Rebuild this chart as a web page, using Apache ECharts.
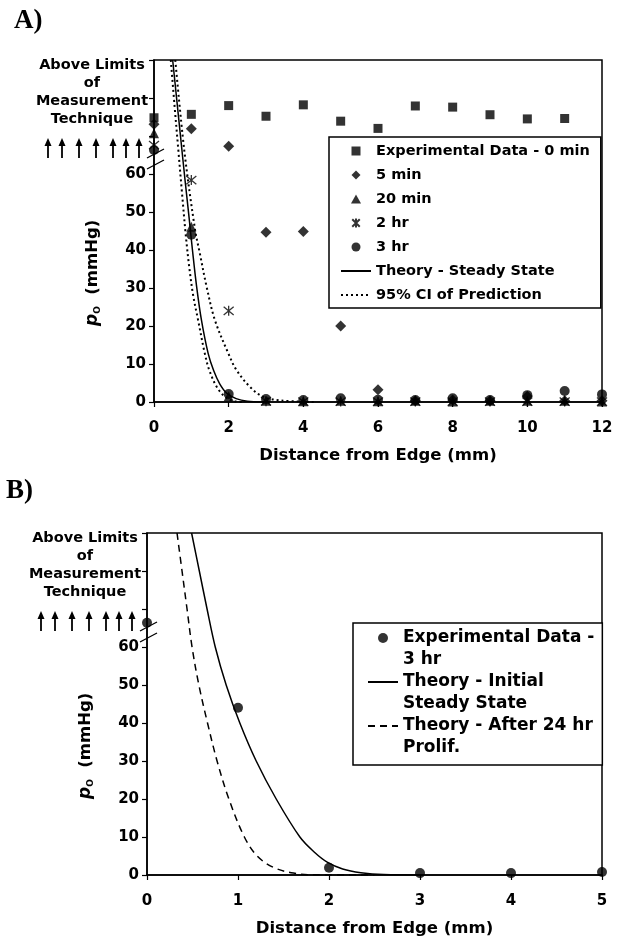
<!DOCTYPE html>
<html>
<head>
<meta charset="utf-8">
<script src="https://cdn.jsdelivr.net/npm/echarts@6/dist/echarts.min.js"></script>
<style>
html, body { margin: 0; padding: 0; background: #fff; }
#main { width: 622px; height: 943px; }
</style>
</head>
<body>
<div id="main"></div>
<script>
// ---- panel A : measured pO at each distance (mm) ----
var distA = [0, 1, 2, 3, 4, 5, 6, 7, 8, 9, 10, 11, 12];
var min0 = [74.8, 75.7, 78.0, 75.2, 78.2, 73.9, 72.0, 77.9, 77.6, 75.6, 74.5, 74.6];
var min5 = [73.1, 71.9, 67.3, 44.7, 44.9, 20.0, 3.2, 0.3, 0.5, 0.3, 1.5, 0.3, 0.3];
var min20 = [70.7, 46.1, 1.5, 0.3, 0.2, 0.3, 0.2, 0.3, 0.1, 0.3, 0.3, 0.3, 0.1];
var hr2 = [67.6, 58.4, 24.0, 0.2, 0.1, 0.1, 0.1, 0.1, 0.1, 0.1, 0.1, 0.1, 0.1];
var hr3 = [66.3, 44.0, 2.1, 0.8, 0.5, 1.0, 0.6, 0.5, 1.0, 0.5, 1.8, 2.9, 2.0];

// theory curve and 95% CI
var steadyX = [0.5, 0.61, 0.72, 0.83, 0.94, 1.03, 1.14, 1.27, 1.45, 1.6, 1.76, 1.95, 2.2, 2.5, 2.9];
var steadyY = [90, 79.5, 69, 58.5, 48.5, 40, 30.5, 21.6, 12.8, 8.2, 4.8, 2.3, 0.9, 0.2, 0];
var ciLowX = [0.45, 0.55, 0.65, 0.75, 0.85, 0.95, 1.05, 1.18, 1.36, 1.48, 1.68, 1.9, 2.15, 2.4];
var ciLowY = [90, 78, 66.5, 55, 44, 35, 28, 21.6, 12.8, 8.4, 4.0, 1.4, 0.2, 0];
var ciHighX = [0.57, 0.81, 1.10, 1.22, 1.41, 1.63, 1.99, 2.21, 2.57, 2.92, 3.4, 4.3];
var ciHighY = [90, 66.3, 45.3, 39.5, 30.3, 21.6, 12.8, 8.4, 4.0, 1.4, 0.4, 0];

// ---- panel B ----
var distB = [0, 1, 2, 3, 4, 5];
var hr3B = [66.4, 44.0, 1.9, 0.5, 0.5, 0.8];
var initX = [0.49, 0.575, 0.66, 0.75, 0.87, 1.02, 1.2, 1.42, 1.68, 1.84, 1.98, 2.15, 2.35, 2.6, 3.0];
var initY = [90, 80, 70, 60, 50, 40, 30, 20, 10, 6, 3.4, 1.6, 0.6, 0.1, 0];
var prolifX = [0.33, 0.385, 0.44, 0.495, 0.57, 0.665, 0.77, 0.9, 1.07, 1.21, 1.39, 1.61, 1.84, 2.5];
var prolifY = [90, 80, 70, 60, 50, 40, 30, 20, 10, 5, 2, 0.5, 0.05, 0];

var yMax = 90, yLabelMax = 60;
var aboveText = ['Above Limits', 'of', 'Measurement', 'Technique'];

var FONT = "'DejaVu Sans', Verdana, sans-serif";
var chart = echarts.init(document.getElementById('main'));

function pairs(xs, ys) {
    var out = [];
    for (var i = 0; i < ys.length; i++) out.push([xs[i], ys[i]]);
    return out;
}

function xAxisOf(gi, max, step) {
    return {
        gridIndex: gi, type: 'value', min: 0, max: max, interval: step,
        axisLine: { onZero: false, lineStyle: { color: '#000', width: 1.5 } },
        axisTick: { show: true, length: 5, lineStyle: { color: '#000', width: 1.2 } },
        splitLine: { show: false },
        axisLabel: { color: '#000', fontFamily: FONT, fontWeight: 'bold', fontSize: 15, margin: 19 },
        name: 'Distance from Edge (mm)', nameLocation: 'middle', nameGap: 45,
        nameTextStyle: { color: '#000', fontFamily: FONT, fontWeight: 'bold', fontSize: 16.5 }
    };
}
function yAxisOf(gi) {
    return {
        gridIndex: gi, type: 'value', min: 0, max: yMax, interval: 10,
        axisLine: { show: true, lineStyle: { color: '#000', width: 1.5 } },
        axisTick: { show: true, length: 5, lineStyle: { color: '#000', width: 1.2 } },
        splitLine: { show: false },
        axisLabel: {
            color: '#000', fontFamily: FONT, fontWeight: 'bold', fontSize: 15, margin: 8,
            formatter: function (v) { return v <= yLabelMax ? v : ''; }
        }
    };
}
function dots(name, gi, sym, size, xs, ys) {
    return {
        name: name, type: 'scatter', xAxisIndex: gi, yAxisIndex: gi,
        symbol: sym, symbolSize: size, itemStyle: { color: '#000' },
        data: pairs(xs, ys), z: 3
    };
}
function curve(name, gi, xs, ys, type, width) {
    return {
        name: name, type: 'line', xAxisIndex: gi, yAxisIndex: gi,
        symbol: 'none', smooth: 0.35,
        lineStyle: { color: '#000', width: width, type: type },
        itemStyle: { color: '#000' },
        data: pairs(xs, ys), z: 2
    };
}
// legend entry for a line series: line only, no dot
function lineKey(name) {
    return { name: name, itemStyle: { opacity: 0 } };
}

var star = dots('2 hr', 0, 'path://M0,0L10,10M10,0L0,10M5,-1L5,11', 10, distA, hr2);
star.itemStyle = { color: 'none', borderColor: '#000', borderWidth: 1.3 };

// square-box icons so the legend does not stretch them
var keyRect = 'path://M0,0L10,0L10,10L0,10Z';
var keyDiamond = 'path://M5,0L10,5L5,10L0,5Z';
var keyTriangle = 'path://M5,0L10,9L0,9Z';

var legendText = { color: '#000', fontFamily: FONT, fontWeight: 'bold' };

option = {
    animation: false,
    backgroundColor: '#fff',
    title: [
        { text: 'A)', left: 14, top: 8, padding: 0,
          textStyle: { fontFamily: "'Liberation Serif', serif", fontWeight: 'bold', fontSize: 27, color: '#000' } },
        { text: 'B)', left: 6, top: 478, padding: 0,
          textStyle: { fontFamily: "'Liberation Serif', serif", fontWeight: 'bold', fontSize: 27, color: '#000' } }
    ],
    grid: [
        { left: 154, top: 60, width: 448, height: 342, show: true, borderColor: '#000', borderWidth: 1.5 },
        { left: 147, top: 533, width: 455, height: 342, show: true, borderColor: '#000', borderWidth: 1.5 }
    ],
    xAxis: [xAxisOf(0, 12, 2), xAxisOf(1, 5, 1)],
    yAxis: [yAxisOf(0), yAxisOf(1)],
    legend: [{
        data: [{ name: 'Experimental Data - 0 min', icon: keyRect },
               { name: '5 min', icon: keyDiamond },
               { name: '20 min', icon: keyTriangle },
               '2 hr', '3 hr',
               lineKey('Theory - Steady State'), lineKey('95% CI of Prediction')],
        left: 329, top: 137, orient: 'vertical', selectedMode: false, symbolKeepAspect: true,
        itemWidth: 30, itemHeight: 9, itemGap: 8, padding: [6, 11, 5, 11],
        backgroundColor: '#fff', borderColor: '#000', borderWidth: 1.5,
        textStyle: Object.assign({ fontSize: 14.5, lineHeight: 16 }, legendText)
    }, {
        data: [{ name: 'Experimental Data -' }, { name: '3 hr ', icon: 'none' },
               lineKey('Theory - Initial'), { name: 'Steady State', icon: 'none' },
               lineKey('Theory - After 24 hr'), { name: 'Prolif.', icon: 'none' }],
        left: 353, top: 623, orient: 'vertical', selectedMode: false, symbolKeepAspect: true,
        itemWidth: 30, itemHeight: 10, itemGap: 4, padding: [6, 8, 8, 14],
        backgroundColor: '#fff', borderColor: '#000', borderWidth: 1.5,
        textStyle: Object.assign({ fontSize: 17, lineHeight: 18 }, legendText)
    }],
    series: [
        dots('Experimental Data - 0 min', 0, 'rect', 9, distA, min0),
        dots('5 min', 0, 'diamond', 11, distA, min5),
        dots('20 min', 0, 'triangle', 10, distA, min20),
        star,
        dots('3 hr', 0, 'circle', 10, distA, hr3),
        curve('Theory - Steady State', 0, steadyX, steadyY, 'solid', 1.5),
        curve('95% CI of Prediction', 0, ciLowX, ciLowY, [2, 3], 2),
        curve('95% CI of Prediction', 0, ciHighX, ciHighY, [2, 3], 2),

        dots('Experimental Data -', 1, 'circle', 10, distB, hr3B),
        curve('Theory - Initial', 1, initX, initY, 'solid', 1.5),
        curve('Theory - After 24 hr', 1, prolifX, prolifY, [7, 5], 1.5),
        // legend second lines only
        { name: '3 hr ', type: 'scatter', xAxisIndex: 1, yAxisIndex: 1, data: [] },
        { name: 'Steady State', type: 'scatter', xAxisIndex: 1, yAxisIndex: 1, data: [] },
        { name: 'Prolif.', type: 'scatter', xAxisIndex: 1, yAxisIndex: 1, data: [] }
    ]
};
chart.setOption(option);

// notes left of the broken y axis
var notes = [];
[0, 1].forEach(function (gi) {
    var corner = chart.convertToPixel({ gridIndex: gi }, [0, yMax]);
    var ax = corner[0], ty = corner[1];
    notes.push({
        type: 'text', x: ax - 62, y: ty - 4,
        style: { text: aboveText.join('\n'), align: 'center', verticalAlign: 'top',
                 font: 'bold 14.5px ' + FONT, lineHeight: 18, fill: '#000' }
    });
    [-106, -92, -75, -58, -41, -28, -15].forEach(function (dx) {
        notes.push({ type: 'line', shape: { x1: ax + dx, y1: ty + 98, x2: ax + dx, y2: ty + 84 },
                     style: { stroke: '#000', lineWidth: 1.8 } });
        notes.push({ type: 'polygon', shape: { points: [[ax + dx - 3.5, ty + 86], [ax + dx + 3.5, ty + 86], [ax + dx, ty + 78]] },
                     style: { fill: '#000' } });
    });
    notes.push({ type: 'line', shape: { x1: ax - 7, y1: ty + 98, x2: ax + 10, y2: ty + 89 },
                 style: { stroke: '#000', lineWidth: 1.3 }, z: 10 });
    notes.push({ type: 'line', shape: { x1: ax - 7, y1: ty + 109, x2: ax + 10, y2: ty + 100 },
                 style: { stroke: '#000', lineWidth: 1.3 }, z: 10 });
    var mid = chart.convertToPixel({ gridIndex: gi }, [0, 34]);
    notes.push({
        type: 'text', x: ax - 61, y: mid[1], rotation: Math.PI / 2,
        style: {
            text: '{p|p}{o|O}{u|  (mmHg)}', align: 'center', verticalAlign: 'middle', fill: '#000',
            rich: {
                p: { fontFamily: FONT, fontWeight: 'bold', fontStyle: 'italic', fontSize: 17, fill: '#000' },
                o: { fontFamily: FONT, fontWeight: 'bold', fontSize: 9, fill: '#000', padding: [10, 0, 0, 0] },
                u: { fontFamily: FONT, fontWeight: 'bold', fontSize: 16.5, fill: '#000' }
            }
        }
    });
});
chart.setOption({ graphic: notes });
</script>
</body>
</html>
